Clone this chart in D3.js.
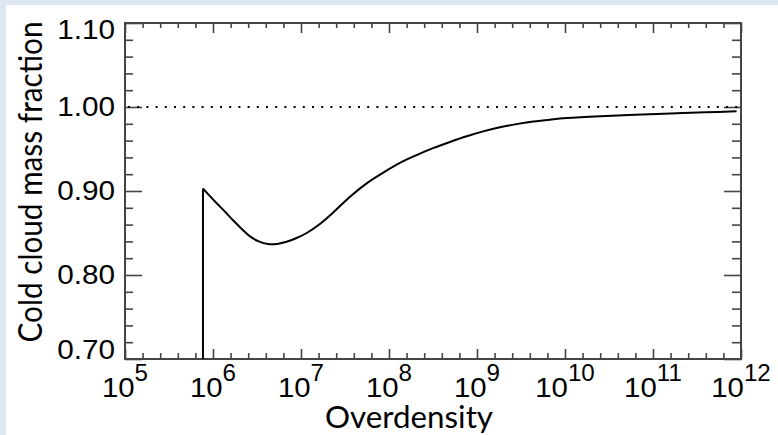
<!DOCTYPE html>
<html><head><meta charset="utf-8">
<script src="https://cdn.jsdelivr.net/npm/d3@7"></script>
<style>
body{margin:0;background:#fff} svg{display:block}
.tick-label{font-family:"Liberation Sans", Arial, Helvetica, sans-serif; fill:#000;}
.title{font-family:Lato, "Open Sans", sans-serif; fill:#000;}
</style>
</head><body>
<script>
// ---- data (log10 of overdensity, cold cloud mass fraction) ----
const logOverdensity = [5.886, 5.886, 5.95, 6.042, 6.14, 6.231, 6.33, 6.42, 6.52, 6.625, 6.73, 6.837, 6.95,
  7.065, 7.2, 7.367, 7.557, 7.746, 7.94, 8.125, 8.3, 8.5, 8.7, 8.883, 9.07, 9.26, 9.45, 9.64, 9.83,
  10.02, 10.4, 10.8, 11.2, 11.6, 11.95];
const coldFraction = [0.700, 0.903, 0.8957, 0.8854, 0.8750, 0.8648, 0.8545, 0.8460, 0.8400, 0.8368, 0.8370, 0.8395, 0.8440,
  0.8500, 0.8595, 0.8745, 0.8932, 0.9091, 0.9222, 0.9334, 0.9421, 0.9510, 0.9587, 0.9652, 0.9710, 0.9758, 0.9796, 0.9826, 0.9849,
  0.9868, 0.9891, 0.9908, 0.9923, 0.9937, 0.9948];
const xExponentTicks = [5, 6, 7, 8, 9, 10, 11, 12];
const yTickValues = [0.70, 0.80, 0.90, 1.00, 1.10];
const yTickLabels = ["0.70", "0.80", "0.90", "1.00", "1.10"];
const referenceLevel = 1.00;
const xTitle = "Overdensity";
const yTitle = "Cold cloud mass fraction";

const W = 778, H = 435;
const L = 125, R = 741, T = 23, B = 359;
const axisColor = "#444";

const svg = d3.select("body").append("svg").attr("width", W).attr("height", H);
svg.append("rect").attr("width", W).attr("height", H).attr("fill", "#fff");
svg.append("rect").attr("x", 0).attr("y", 0).attr("width", W).attr("height", 5).attr("fill", "#dde7f3");
svg.append("rect").attr("x", 0).attr("y", 0).attr("width", 6).attr("height", H).attr("fill", "#dde7f3");

const x = d3.scaleLinear().domain([5, 12]).range([L, R]);
const y = d3.scaleLinear().domain([0.70, 1.10]).range([B, T]);

const xMinor = d3.range(5, 12.0001, 0.2).filter(v => Math.abs(v - Math.round(v)) > 1e-6);
const yMinor = d3.range(0.70, 1.1001, 0.02).filter(v => Math.abs(v * 10 - Math.round(v * 10)) > 1e-6);

function styleAxis(g) {
  g.select(".domain").remove();
  g.selectAll(".tick line").attr("stroke", axisColor).attr("stroke-width", 1.6);
  g.selectAll(".tick text").remove();
}
svg.append("g").attr("transform", `translate(0,${B})`)
  .call(d3.axisBottom(x).tickValues(xExponentTicks).tickSize(-10)).call(styleAxis);
svg.append("g").attr("transform", `translate(0,${B})`)
  .call(d3.axisBottom(x).tickValues(xMinor).tickSize(-6)).call(styleAxis);
svg.append("g").attr("transform", `translate(0,${T})`)
  .call(d3.axisTop(x).tickValues(xExponentTicks).tickSize(-10)).call(styleAxis);
svg.append("g").attr("transform", `translate(0,${T})`)
  .call(d3.axisTop(x).tickValues(xMinor).tickSize(-5)).call(styleAxis);
svg.append("g").attr("transform", `translate(${L},0)`)
  .call(d3.axisLeft(y).tickValues(yTickValues).tickSize(-17)).call(styleAxis);
svg.append("g").attr("transform", `translate(${L},0)`)
  .call(d3.axisLeft(y).tickValues(yMinor).tickSize(-8)).call(styleAxis);
svg.append("g").attr("transform", `translate(${R},0)`)
  .call(d3.axisRight(y).tickValues(yTickValues).tickSize(-17)).call(styleAxis);
svg.append("g").attr("transform", `translate(${R},0)`)
  .call(d3.axisRight(y).tickValues(yMinor).tickSize(-9)).call(styleAxis);

svg.append("rect").attr("x", L).attr("y", T).attr("width", R - L).attr("height", B - T)
  .attr("fill", "none").attr("stroke", axisColor).attr("stroke-width", 2);

svg.append("line").attr("x1", L + 3).attr("x2", R).attr("y1", y(referenceLevel)).attr("y2", y(referenceLevel))
  .attr("stroke", "#000").attr("stroke-width", 2).attr("stroke-dasharray", "2,7.2");

const pts = logOverdensity.map((v, i) => [v, coldFraction[i]]);
const linear = d3.line().x(d => x(d[0])).y(d => y(d[1]));
const smooth = d3.line().x(d => x(d[0])).y(d => y(d[1])).curve(d3.curveCatmullRom.alpha(0.5));
svg.append("path").attr("d", linear(pts.slice(0, 2))).attr("fill", "none").attr("stroke", "#000").attr("stroke-width", 2);
svg.append("path").attr("d", smooth(pts.slice(1))).attr("fill", "none").attr("stroke", "#000").attr("stroke-width", 2)
  .attr("stroke-linejoin", "round");

// y tick labels
yTickValues.forEach((v, i) => {
  let yy = y(v) + 9;
  if (i === 0) yy -= 9;
  if (i === yTickValues.length - 1) yy += 7;
  svg.append("text").attr("class", "tick-label")
    .attr("transform", `translate(115,${yy}) scale(1.1,1)`)
    .attr("text-anchor", "end")
    .style("font-size", "27px")
    .text(yTickLabels[i]);
});

// x tick labels: base 10 with superscript exponent
xExponentTicks.forEach(e => {
  const t = svg.append("text").attr("class", "tick-label")
    .attr("transform", `translate(${x(e)},397) scale(1.05,1)`)
    .attr("text-anchor", "middle")
    .style("font-size", "28px");
  t.append("tspan").text("10");
  t.append("tspan").attr("dy", -16).style("font-size", "23px").text(String(e));
});

svg.append("text").attr("class", "title").attr("x", 409).attr("y", 428).attr("text-anchor", "middle")
  .style("font-size", "31px")
  .attr("textLength", 168).attr("lengthAdjust", "spacingAndGlyphs")
  .text(xTitle);
svg.append("text").attr("class", "title").attr("transform", "translate(42,182) rotate(-90)").attr("text-anchor", "middle")
  .style("font-size", "32px")
  .attr("textLength", 321).attr("lengthAdjust", "spacingAndGlyphs")
  .text(yTitle);
</script>
</body></html>
